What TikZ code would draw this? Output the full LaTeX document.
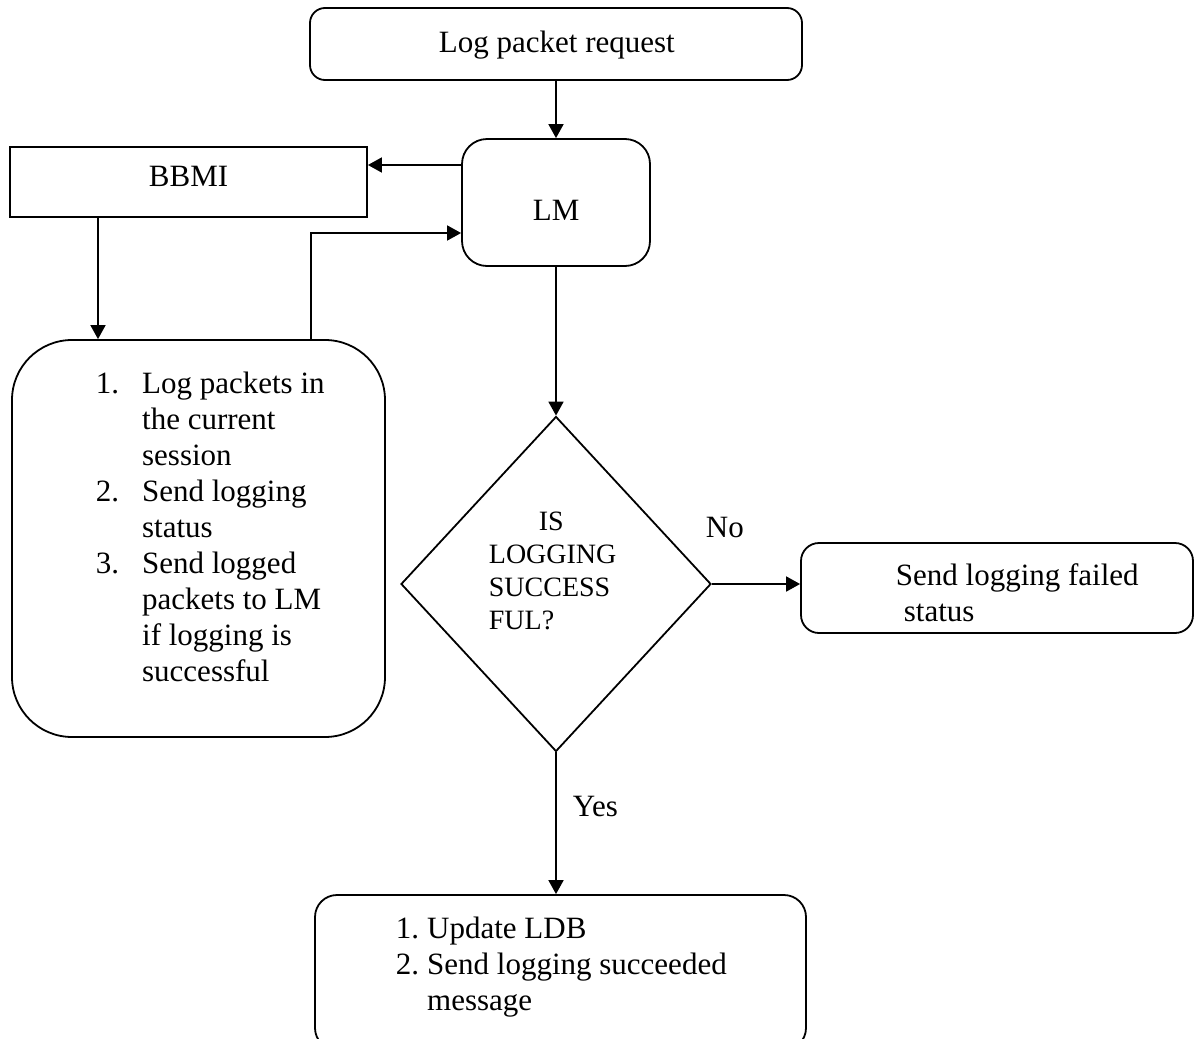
\documentclass[tikz,border=0pt]{standalone}
\usepackage{fontspec}
\setmainfont{Liberation Serif}
\usetikzlibrary{arrows.meta,shapes.geometric}

\begin{document}
\begin{tikzpicture}[x=1pt,y=-1pt,
  line width=1.8pt,
  rbox/.style={draw, inner sep=0pt, rounded corners=#1},
  arr/.style={-{Triangle[length=14pt,width=15pt]}},
  txt/.style={inner sep=0pt, anchor=base west, font=\fontsize{31}{36}\selectfont},
  small/.style={inner sep=0pt, anchor=base west, font=\fontsize{28}{33}\selectfont}]

\useasboundingbox (0,0) rectangle (1195,1039);
\clip (0,0) rectangle (1195,1039);

% boxes
\node[rbox=15pt, minimum width=492pt, minimum height=72pt] (req) at (556,44) {};
\node[rbox=25pt, minimum width=188pt, minimum height=127pt] (lm) at (556,202.5) {};
\node[draw, inner sep=0pt, minimum width=357pt, minimum height=70pt] (bbmi) at (188.5,182) {};
\node[rbox=60pt, minimum width=373pt, minimum height=397pt] (steps) at (198.5,538.5) {};
\node[draw, shape=diamond, inner sep=0pt, minimum width=310pt, minimum height=335pt] (dec) at (556,584) {};
\node[rbox=18pt, minimum width=392pt, minimum height=90pt] (fail) at (997,588) {};
\node[rbox=22pt, minimum width=491pt, minimum height=155pt] (ok) at (560.5,972.5) {};

% texts
\node[txt] (reqt) at (438,52) {Log packet request};
\node[txt] (lmt) at (532,220) {LM};
\node[txt] (bbmit) at (148,186) {BBMI};
\node[txt] (stepst) at (95,393) {%
  \begin{tabular}[t]{@{}l@{\hspace{23pt}}l@{}}
  1. & Log packets in\\
     & the current\\
     & session\\
  2. & Send logging\\
     & status\\
  3. & Send logged\\
     & packets to LM\\
     & if logging is\\
     & successful
  \end{tabular}};
\node[small] (dect) at (488,530) {%
  \begin{tabular}[t]{@{}l@{}}
  \hspace*{50pt}IS\\
  LOGGING\\
  SUCCESS\\
  FUL?
  \end{tabular}};
\node[txt] (failt) at (895,585) {%
  \begin{tabular}[t]{@{}l@{}}
  Send logging failed\\
  \hspace*{8pt}status
  \end{tabular}};
\node[txt] (okt) at (395,938) {%
  \begin{tabular}[t]{@{}l@{\hspace{8pt}}l@{}}
  1. & Update LDB\\
  2. & Send logging succeeded\\
     & message
  \end{tabular}};
\node[txt] (no) at (705,537) {No};
\node[txt] (yes) at (572,816) {Yes};

% connectors
\draw[arr] (req.south) -- (lm.north);
\draw[arr] (lm.west |- 0,165) -- (bbmi.east |- 0,165);
\draw[arr] (bbmi.south -| 98,0) -- (steps.north -| 98,0);
\draw[arr] (steps.north -| 311,0) -- (311,233) -- (lm.west |- 0,233);
\draw[arr] (lm.south) -- (dec.north);
\draw[arr] (dec.east) -- (dec.east -| fail.west);
\draw[arr] (dec.south) -- (dec.south |- ok.north);
\end{tikzpicture}
\end{document}
